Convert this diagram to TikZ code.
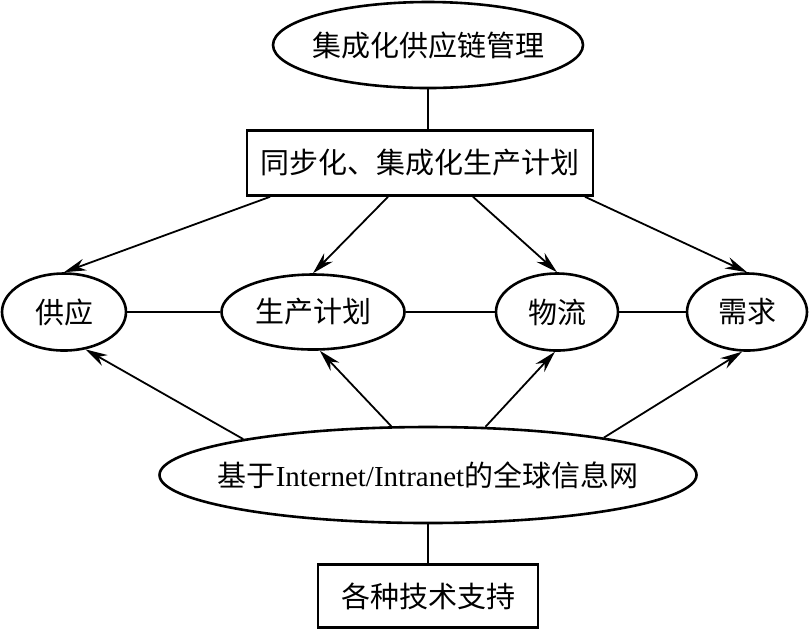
\documentclass[tikz,border=0pt]{standalone}
\usepackage{fontspec}
\setmainfont{Noto Sans CJK SC}
\newfontfamily\latinfont{Liberation Serif}
\usetikzlibrary{shapes.geometric,arrows.meta}
\begin{document}
\begin{tikzpicture}[x=0.5pt,y=-0.5pt,
        every node/.style = {draw, line width=1.3pt, inner sep=0pt,
            font=\fontsize{14.5}{17}\selectfont},
        oval/.style = {ellipse},
        box/.style = {rectangle},
        link/.style = {line width=0.9pt},
        arrow/.style = {link, -{Stealth[length=11pt,width=6pt]}}]
    \useasboundingbox (0,0) rectangle (812,629);
    \node[oval, minimum width=155pt, minimum height=43pt] (scm) at (428,45)
        {\makebox[0pt]{集成化供应链管理}};
    \node[box, minimum width=173pt, minimum height=32.5pt] (plan) at (420,163)
        {同步化、集成化生产计划};
    \node[oval, minimum width=62pt, minimum height=38.5pt] (gy) at (64,312) {供应};
    \node[oval, minimum width=91.5pt, minimum height=37.5pt] (sc) at (313,312) {生产计划};
    \node[oval, minimum width=61pt, minimum height=38.5pt] (wl) at (557,312) {物流};
    \node[oval, minimum width=60pt, minimum height=38.5pt] (xq) at (747,312) {需求};
    \node[oval, minimum width=268.5pt, minimum height=48pt] (net) at (428,475)
        {\makebox[0pt]{基于{\latinfont Internet/Intranet}的全球信息网}};
    \node[box, minimum width=110pt, minimum height=31.5pt] (tech) at (428,596)
        {各种技术支持};
    \draw[link] (scm.south) -- (scm.south |- plan.north);
    \draw[link] (net.south) -- (tech.north);
    \draw[link] (gy) -- (sc);
    \draw[link] (sc) -- (wl);
    \draw[link] (wl) -- (xq);
    \draw[arrow] ([xshift=-75pt]plan.south) -- (gy.north);
    \draw[arrow] ([xshift=-16pt]plan.south) -- (sc.north);
    \draw[arrow] ([xshift=26.5pt]plan.south) -- (wl.north);
    \draw[arrow] ([xshift=82.5pt]plan.south) -- (xq.north);
    \draw[arrow] (net.169) -- (gy.300);
    \draw[arrow] (net.127) -- (sc.280);
    \draw[arrow] (net.40) -- (wl.267);
    \draw[arrow] (net.12) -- (xq.263);
\end{tikzpicture}
\end{document}
